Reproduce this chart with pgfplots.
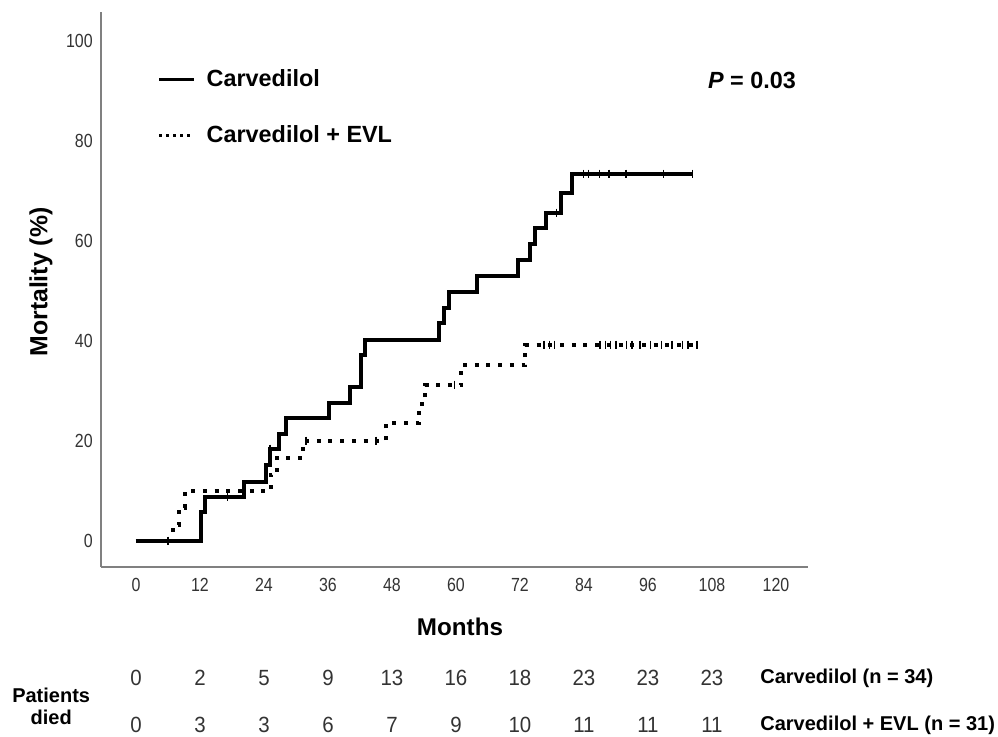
\documentclass[border=0pt]{standalone}
\usepackage{fontspec}
\setmainfont{Liberation Sans}
\newfontfamily\ticknarrow[FakeStretch=0.84]{Liberation Sans}
\newfontfamily\tabnarrow[FakeStretch=0.93]{Liberation Sans}
\usepackage{pgfplots}
\pgfplotsset{compat=1.18}
\begin{document}
\begin{tikzpicture}[x=1pt,y=1pt]
\useasboundingbox (0,0) rectangle (499,368);
\begin{axis}[
  at={(50.5pt,84.5pt)}, anchor=south west,
  width=353.5pt, height=277.5pt, scale only axis,
  xmin=-6.56, xmax=126, ymin=-5.2, ymax=105.8,
  axis x line=bottom, axis y line=left,
  axis line style={draw=black!50, line width=0.75pt, -},
  xtick={0,12,...,120}, ytick={0,20,...,100},
  tick style={draw=none},
  /pgf/number format/assume math mode=true,
  ticklabel style={font=\ticknarrow\fontsize{9.5}{11}\selectfont, text=black!80},
  yticklabel style={xshift=1.5pt},
  clip=false,
  legend style={at={(axis cs:4.0,95.1)}, anchor=north west, draw=none, fill=none,
    font=\bfseries\fontsize{11.7}{14}\selectfont, row sep=14pt, inner sep=0pt,
    /tikz/every odd column/.append style={column sep=3.5pt}},
  legend cell align=left,
  legend image code/.code={\draw[#1] (0pt,0pt) -- (17.5pt,0pt);},
]
% Carvedilol
\addplot[const plot, line width=2pt, black, forget plot] coordinates {
(0,0) (12.2,5.9) (13.0,8.8) (20.2,11.9) (24.4,15.2) (25.1,18.4) (26.9,21.4) (28.1,24.6)
(36.1,27.6) (40.1,30.8) (42.1,37.2) (43.0,40.2) (56.9,43.6) (57.8,46.6) (58.7,49.8)
(64.0,53.0) (71.7,56.2) (73.9,59.4) (74.9,62.6) (76.9,65.6) (79.7,69.6) (81.8,73.4) (104.3,73.4)};
\addplot[only marks, mark=|, mark size=2.2pt, mark options={line width=0.7pt}, black, forget plot] coordinates {
(17.2,8.8) (25.1,18.4) (78.8,65.6) (83.9,73.4) (84.8,73.4) (86.9,73.4) (88.7,73.4)
(91.9,73.4) (98.9,73.4) (104.3,73.4)};
% Carvedilol + EVL
\addplot[const plot, line width=2pt, black, dash pattern=on 2pt off 3.85pt, forget plot] coordinates {
(0,0) (7.0,3.3) (8.1,6.7) (9.1,10.0) (25.3,13.3) (26.5,16.7) (31.3,20.0) (46.9,23.6)
(53.1,27.4) (54.2,31.2) (61.0,35.2) (73.0,39.2) (105.4,39.2)};
\addplot[only marks, mark=|, mark size=2.2pt, mark options={line width=0.7pt}, black, forget plot] coordinates {
(6.0,0) (31.9,20.0) (45.0,20.0) (59.7,31.2)
(76.5,39.2) (77.5,39.2) (78.5,39.2) (87.0,39.2) (88.0,39.2) (89.0,39.2) (90.0,39.2)
(92.0,39.2) (93.0,39.2) (94.5,39.2) (96.5,39.2) (98.5,39.2) (100.5,39.2) (102.5,39.2)
(103.5,39.2) (105.2,39.2)};
\addlegendimage{black, line width=1.5pt}
\addlegendentry{Carvedilol}
\addlegendimage{black, line width=1.5pt, dash pattern=on 1.5pt off 2pt}
\addlegendentry{Carvedilol + EVL}
% patients died table
\addplot[only marks, mark=none, forget plot, nodes near coords, point meta=explicit symbolic,
  nodes near coords style={anchor=center, font=\tabnarrow\fontsize{11}{13}\selectfont, text=black!80}]
  table[meta=lab] {
x y lab
0 -27.4 0
12 -27.4 2
24 -27.4 5
36 -27.4 9
48 -27.4 13
60 -27.4 16
72 -27.4 18
84 -27.4 23
96 -27.4 23
108 -27.4 23
0 -36.8 0
12 -36.8 3
24 -36.8 3
36 -36.8 6
48 -36.8 7
60 -36.8 9
72 -36.8 10
84 -36.8 11
96 -36.8 11
108 -36.8 11
};
% P value
\node[font=\bfseries\fontsize{11.7}{14}\selectfont] at (axis cs:115.5,92.2) {\textit{P} = 0.03};
% axis labels
\node[rotate=90, font=\bfseries\fontsize{12.4}{14}\selectfont] at (axis cs:-17.8,51.8) {Mortality (\%)};
\node[font=\bfseries\fontsize{12.1}{14}\selectfont] at (axis cs:60.75,-17.2) {Months};
\node[font=\bfseries\fontsize{10}{12}\selectfont, align=center] at (axis cs:-15.9,-33.1) {Patients\\[-1pt]died};
\node[anchor=west, inner sep=0pt, font=\bfseries\fontsize{10}{12}\selectfont] at (axis cs:117,-27.4) {Carvedilol (n = 34)};
\node[anchor=west, inner sep=0pt, font=\bfseries\fontsize{10}{12}\selectfont] at (axis cs:117,-36.8) {Carvedilol + EVL (n = 31)};
\end{axis}
\end{tikzpicture}
\end{document}
